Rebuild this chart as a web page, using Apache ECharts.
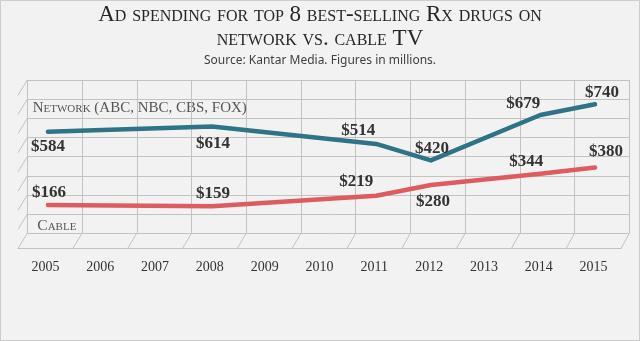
<!DOCTYPE html>
<html><head><meta charset="utf-8">
<script src="https://cdn.jsdelivr.net/npm/echarts@6/dist/echarts.min.js"></script>
<style>html,body{margin:0;padding:0;background:#f2f2f2}#c{width:640px;height:341px}</style>
</head><body><div id="c"></div>
<script>
const years = ['2005','2006','2007','2008','2009','2010','2011','2012','2013','2014','2015'];
const network = [584, null, null, 614, null, null, 514, 420, null, 679, 740];
const cable = [166, null, null, 159, null, null, 219, 280, null, 344, 380];

// label placement (layout only)
const netLabelLayout = {0:['bottom',6,0],3:['bottom',9,1],6:['top',5,-18],7:['top',3,1],9:['top',3,-17],10:['top',3,7]};
const cabLabelLayout = {0:['top',4,1],3:['top',4.5,1],6:['top',5.5,-20],7:['bottom',8,2],9:['top',3.5,-14],10:['top',7,11]};

function build(arr, layout){
  return arr.map((v,i)=>{
    if(v==null) return null;
    const l = layout[i];
    return {value:v, label:{position:l[0], distance:l[1], offset:[l[2],0]}};
  });
}

const serif = "'Liberation Serif', 'DejaVu Serif', serif";
const backL=27.3, backR=629.3, backT=80, backB=233.3, frontL=18, frontR=621, frontY=248.5;
const gridColor = '#c2c2c2';
const graphics = [];
graphics.push({type:'rect', shape:{x:0.5,y:0.5,width:639,height:340}, style:{fill:'none',stroke:'#cdcdcd',lineWidth:1}, z:-1, silent:true});
for(let k=0;k<=11;k++){
  const xb = backL + (backR-backL)*k/11, xf = frontL + (frontR-frontL)*k/11;
  graphics.push({type:'line', shape:{x1:xb,y1:backB,x2:xf,y2:frontY}, style:{stroke:gridColor,lineWidth:1}, z:-1, silent:true});
}
for(let j=1;j<=8;j++){
  const y = backB - (backB-backT)*j/8;
  graphics.push({type:'line', shape:{x1:backL,y1:y,x2:frontL,y2:y+15.2}, style:{stroke:gridColor,lineWidth:1}, z:-1, silent:true});
}
graphics.push({type:'text', left:32.7, top:101, style:{text:'Network (ABC, NBC, CBS, FOX)', font:"normal small-caps normal 15px "+serif, fill:'#555555'}});
graphics.push({type:'text', left:37.3, top:218, style:{text:'Cable', font:"normal small-caps normal 15.5px "+serif, fill:'#555555'}});

const chart = echarts.init(document.getElementById('c'));
chart.setOption({
  backgroundColor:'#f2f2f2',
  animation:false,
  title:[
    {text:'Ad spending for top 8 best-selling Rx drugs on\nnetwork vs. cable TV', left:'center', top:3, padding:0,
     textStyle:{fontFamily:serif, fontStyle:'normal small-caps', fontWeight:'normal', fontSize:23, lineHeight:24, color:'#262626'}},
    {text:'Source: Kantar Media. Figures in millions.', left:'center', top:53, padding:0,
     textStyle:{fontFamily:"'Noto Sans', sans-serif", fontWeight:'normal', fontSize:12, lineHeight:16, color:'#404040'}}
  ],
  grid:[
    {left:20.6, right:17.6, top:93.8, bottom:106.9},
    {left:backL, right:640-backR, top:backT, bottom:341-backB},
    {left:frontL, right:640-frontR, top:200, bottom:341-frontY}
  ],
  xAxis:[
    {gridIndex:0, type:'category', data:years, boundaryGap:true, show:false},
    {gridIndex:1, type:'category', data:years, boundaryGap:true, axisLine:{show:false}, axisTick:{show:false}, axisLabel:{show:false},
     splitLine:{show:true, lineStyle:{color:gridColor, width:1}}},
    {gridIndex:2, type:'category', data:years, boundaryGap:true, axisLine:{show:true, lineStyle:{color:gridColor, width:1}},
     axisTick:{show:false}, splitLine:{show:false},
     axisLabel:{margin:12, fontFamily:serif, fontSize:14, color:'#333333', interval:0}}
  ],
  yAxis:[
    {gridIndex:0, type:'value', min:0, max:800, show:false, splitLine:{show:false}},
    {gridIndex:1, type:'value', min:0, max:8, interval:1, axisLine:{show:false}, axisTick:{show:false}, axisLabel:{show:false},
     splitLine:{show:true, lineStyle:{color:gridColor, width:1}}},
    {gridIndex:2, type:'value', min:0, max:1, show:false, splitLine:{show:false}}
  ],
  graphic: graphics,
  series:[
    {type:'line', name:'Network (ABC, NBC, CBS, FOX)', xAxisIndex:0, yAxisIndex:0, data:build(network, netLabelLayout), connectNulls:true,
     symbol:'circle', symbolSize:0, lineStyle:{color:'#2f7386', width:4.5, cap:'round', join:'round'}, itemStyle:{color:'#2f7386'},
     label:{show:true, formatter:p=>'$'+p.value, fontFamily:serif, fontWeight:'bold', fontSize:17, color:'#333333'}},
    {type:'line', name:'Cable', xAxisIndex:0, yAxisIndex:0, data:build(cable, cabLabelLayout), connectNulls:true,
     symbol:'circle', symbolSize:0, lineStyle:{color:'#de5b61', width:4.5, cap:'round', join:'round'}, itemStyle:{color:'#de5b61'},
     label:{show:true, formatter:p=>'$'+p.value, fontFamily:serif, fontWeight:'bold', fontSize:17, color:'#333333'}}
  ]
});
</script></body></html>
